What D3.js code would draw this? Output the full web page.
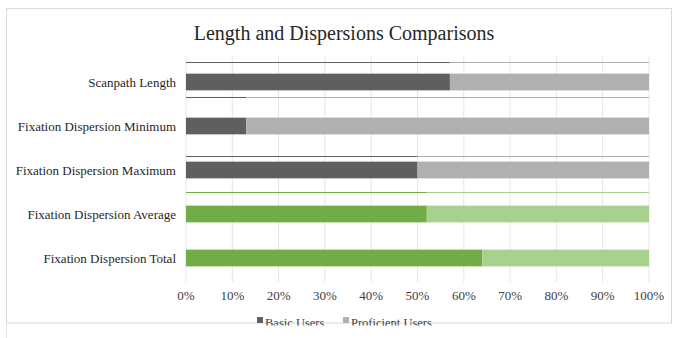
<!DOCTYPE html>
<html>
<head>
<meta charset="utf-8">
<script src="https://cdn.jsdelivr.net/npm/d3@7"></script>
<style>
  body { margin: 0; background: #fff; }
  svg { display: block; font-family: "Liberation Serif", "DejaVu Serif", serif; }
</style>
</head>
<body>
<svg id="graph" width="682" height="338"></svg>
<script>
// categories from top to bottom
var categorias = ["Scanpath Length", "Fixation Dispersion Minimum", "Fixation Dispersion Maximum",
    "Fixation Dispersion Average", "Fixation Dispersion Total"];
// share of Basic Users (%), rest is Proficient Users
var basicos = [57, 13, 50, 52, 64];
var ticks = [0, 10, 20, 30, 40, 50, 60, 70, 80, 90, 100];
var series = ["Basic Users", "Proficient Users"];

function creaGrafica() {
    let svg = d3.select("#graph");
    var margin = { top: 60, left: 186, right: 33 };
    var width = 682 - margin.left - margin.right;

    // colores: gris para las primeras tres filas, verde para las dispersiones
    var oscuro = i => i < 3 ? "#5f5f5f" : "#70ad47";
    var claro = i => i < 3 ? "#b0b0b0" : "#a9d18e";

    // marco del grafico
    svg.append("rect").attr("x", 6.5).attr("y", 8.5).attr("width", 665).attr("height", 314.5)
        .attr("fill", "none").attr("stroke", "#d9d9d9");
    svg.append("line").attr("x1", 6.5).attr("x2", 6.5).attr("y1", 323).attr("y2", 338).attr("stroke", "#e4e4e4");

    svg.append("text").attr("x", 344).attr("y", 40).attr("text-anchor", "middle")
        .attr("font-size", 20).attr("fill", "#262626").text("Length and Dispersions Comparisons");

    var g = svg.append("g").attr("transform", "translate(" + margin.left + ",0)");

    var x = d3.scaleLinear().domain([0, 100]).range([0, width]);
    var y = d3.scaleBand().domain(categorias).range([60, 280]).paddingInner(0.62).paddingOuter(0.31);

    // lineas de la cuadricula
    g.append("g").selectAll("line").data(ticks).enter().append("line")
        .attr("x1", d => x(d)).attr("x2", d => x(d))
        .attr("y1", 56).attr("y2", 282)
        .attr("stroke", "#e6e6e6").attr("stroke-width", 1);

    // lineas fantasma sobre las barras (restos de otra capa)
    var desplaza = [-12, -21, -6, -14];
    var fantasma = g.append("g");
    desplaza.forEach((dy, i) => {
        let yy = Math.round(y(categorias[i])) + dy + 0.5;
        fantasma.append("line").attr("x1", 0).attr("x2", x(basicos[i])).attr("y1", yy).attr("y2", yy)
            .attr("stroke", oscuro(i)).attr("stroke-width", 1.2);
        fantasma.append("line").attr("x1", x(basicos[i])).attr("x2", x(100)).attr("y1", yy).attr("y2", yy)
            .attr("stroke", claro(i)).attr("stroke-width", 1.2);
    });
    fantasma.append("line").attr("x1", 0).attr("x2", x(100)).attr("y1", 118.5).attr("y2", 118.5)
        .attr("stroke", "#cfcfcf");

    let filas = g.append("g").selectAll("g").data(categorias).enter().append("g");

    filas.append("rect")
        .attr("x", 0).attr("y", d => y(d))
        .attr("width", (d, i) => x(basicos[i]))
        .attr("height", y.bandwidth())
        .attr("fill", (d, i) => oscuro(i));

    filas.append("rect")
        .attr("x", (d, i) => x(basicos[i])).attr("y", d => y(d))
        .attr("width", (d, i) => x(100) - x(basicos[i]))
        .attr("height", y.bandwidth())
        .attr("fill", (d, i) => claro(i));

    // etiquetas de categorias
    svg.append("g").selectAll("text").data(categorias).enter().append("text")
        .attr("x", 176).attr("y", d => y(d) + y.bandwidth() / 2 + 4.5)
        .attr("text-anchor", "end").attr("font-size", 13).attr("fill", "#262626")
        .text(d => d);

    // eje x
    g.append("g").selectAll("text").data(ticks).enter().append("text")
        .attr("x", d => x(d)).attr("y", 300).attr("text-anchor", "middle")
        .attr("font-size", 13).attr("fill", "#404040")
        .text(d => d + "%");

    // leyenda (recortada abajo)
    svg.append("clipPath").attr("id", "corte").append("rect")
        .attr("x", 0).attr("y", 300).attr("width", 682).attr("height", 25.5);
    var ley = svg.append("g").attr("clip-path", "url(#corte)");
    var posX = [257, 343];
    series.forEach((s, i) => {
        ley.append("rect").attr("x", posX[i]).attr("y", 317).attr("width", 6).attr("height", 6)
            .attr("fill", i == 0 ? "#5f5f5f" : "#b0b0b0");
        ley.append("text").attr("x", posX[i] + 8).attr("y", 327).attr("font-size", 12.5)
            .attr("fill", "#404040").text(s);
    });
}

creaGrafica();
</script>
</body>
</html>
